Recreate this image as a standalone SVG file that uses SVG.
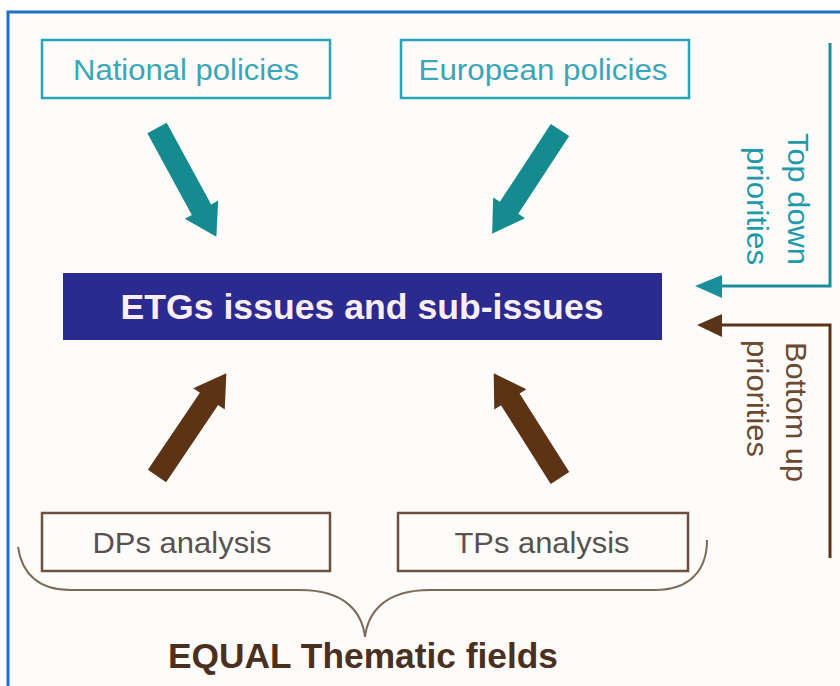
<svg xmlns="http://www.w3.org/2000/svg" xmlns:xlink="http://www.w3.org/1999/xlink" width="840" height="686" viewBox="0 0 840 686">
<style>
.tbox{fill:none;stroke:#2aa3b8;stroke-width:2.5}
.bbox{fill:none;stroke:#6e5040;stroke-width:2.5}
.ttxt{font-family:"Liberation Sans",Arial,sans-serif;font-size:29px;fill:#3aa6b6;text-anchor:middle}
.btxt{font-family:"Liberation Sans",Arial,sans-serif;font-size:29px;fill:#575250;text-anchor:middle}
.side{font-family:"Liberation Sans",Arial,sans-serif;font-size:30px}
.teal{fill:#158a8f}
.brown{fill:#5c3314}
</style>
<defs>
<path id="blk" d="M0,-11 L93,-11 L93,-19 L124,0 L93,19 L93,11 L0,11 Z"/>
</defs>
<rect x="0" y="0" width="840" height="686" fill="#ffffff"/>
<rect x="8" y="12" width="840" height="690" fill="#fefcfb" stroke="#1f6fc4" stroke-width="3"/>

<g id="national">
<rect class="tbox" x="42" y="40" width="288" height="58"/>
<text class="ttxt" x="186" y="80" textLength="226" lengthAdjust="spacingAndGlyphs">National policies</text>
</g>
<g id="european">
<rect class="tbox" x="401" y="40" width="288" height="58"/>
<text class="ttxt" x="543" y="80" textLength="249" lengthAdjust="spacingAndGlyphs">European policies</text>
</g>
<g id="etg">
<rect x="63" y="273" width="599" height="67" fill="#2b2a8e"/>
<text x="362" y="319" font-family="'Liberation Sans',Arial,sans-serif" font-size="35" font-weight="bold" fill="#fbeef4" text-anchor="middle" textLength="483" lengthAdjust="spacingAndGlyphs">ETGs issues and sub-issues</text>
</g>
<g id="dps">
<rect class="bbox" x="42" y="513" width="288" height="58"/>
<text class="btxt" x="182" y="553" textLength="179" lengthAdjust="spacingAndGlyphs">DPs analysis</text>
</g>
<g id="tps">
<rect class="bbox" x="398" y="513" width="290" height="58"/>
<text class="btxt" x="542" y="553" textLength="175" lengthAdjust="spacingAndGlyphs">TPs analysis</text>
</g>
<g id="topdown-label" class="side" fill="#1f9aaa">
<text transform="translate(788,133) rotate(90)" textLength="132" lengthAdjust="spacingAndGlyphs">Top down</text>
<text transform="translate(747,147) rotate(90)" textLength="118" lengthAdjust="spacingAndGlyphs">priorities</text>
</g>
<g id="bottomup-label" class="side" fill="#6b4a32">
<text transform="translate(786,342) rotate(90)" textLength="140" lengthAdjust="spacingAndGlyphs">Bottom up</text>
<text transform="translate(747,340) rotate(90)" textLength="117" lengthAdjust="spacingAndGlyphs">priorities</text>
</g>
<g id="equal">
<path d="M18,547 C22,575 40,590 70,590 L300,590 C345,590 362,612 365,637 C368,612 385,590 430,590 L655,590 C690,590 707,570 707,540" fill="none" stroke="#7d6b58" stroke-width="2"/>
<text x="363" y="668" font-family="'Liberation Sans',Arial,sans-serif" font-size="35" font-weight="bold" fill="#4a3020" text-anchor="middle" textLength="390" lengthAdjust="spacingAndGlyphs">EQUAL Thematic fields</text>
</g>

<g id="connectors">
<use href="#blk" class="teal" transform="translate(157,128) rotate(61.4)"/>
<use href="#blk" class="teal" transform="translate(560,130) rotate(123.2)"/>
<use href="#blk" class="brown" transform="translate(157,476) rotate(-56)"/>
<use href="#blk" class="brown" transform="translate(560,478) rotate(-122.3)"/>
<path d="M830,43 L830,286 L718,286" fill="none" stroke="#1a8f9a" stroke-width="3"/>
<polygon points="695,286 722,275 722,298" fill="#1a8f9a"/>
<path d="M830,558 L830,325 L718,325" fill="none" stroke="#5a3418" stroke-width="3"/>
<polygon points="697,325 722,314 722,337" fill="#5a3418"/>
</g>
</svg>
